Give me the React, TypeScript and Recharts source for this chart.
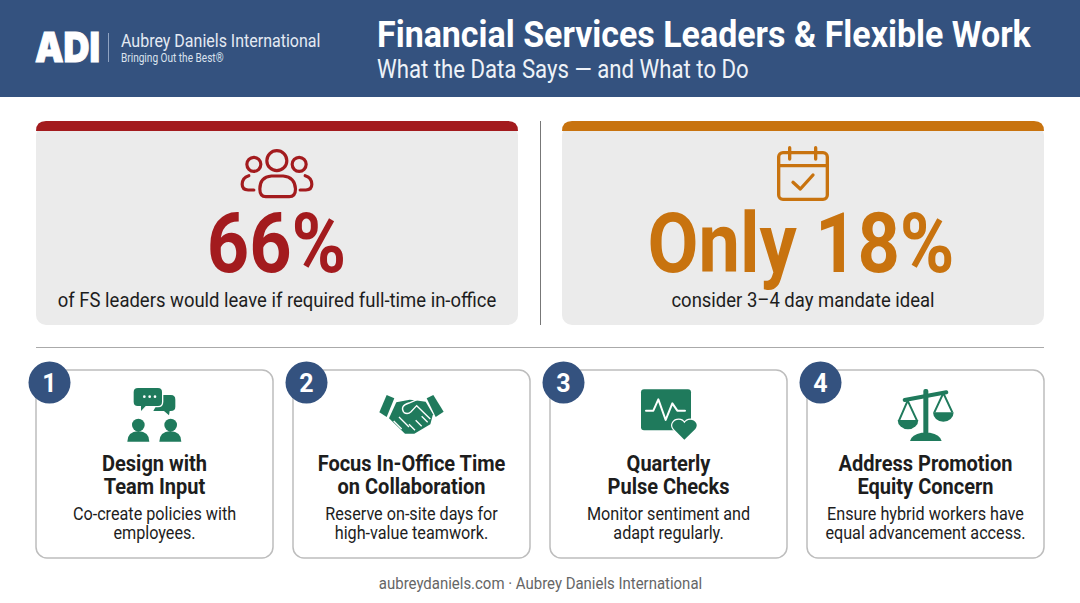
import { BarChart, Bar, XAxis, YAxis } from "recharts";

const statCategories = ["leave", "mandate"];
const statValues = [66, 18];
const statHeadlines = ["66%", "Only 18%"];
const statCaptions = [
  "of FS leaders would leave if required full-time in-office",
  "consider 3–4 day mandate ideal",
];
const statColors = ["#a31b1e", "#c8730f"];

const stepNumbers = [1, 2, 3, 4];
const stepTitles = [
  ["Design with", "Team Input"],
  ["Focus In-Office Time", "on Collaboration"],
  ["Quarterly", "Pulse Checks"],
  ["Address Promotion", "Equity Concern"],
];
const stepTexts = [
  ["Co-create policies with", "employees."],
  ["Reserve on-site days for", "high-value teamwork."],
  ["Monitor sentiment and", "adapt regularly."],
  ["Ensure hybrid workers have", "equal advancement access."],
];

const statData = statCategories.map((name, i) => ({ name, value: statValues[i] }));
const stepData = stepNumbers.map((step) => ({ name: "step" + step, step }));

const NAVY = "#34527f";
const GREEN = "#1f7a5c";
const INK = "#1d1d1d";

// Roboto squeezed sideways, no condensed cut is installed
function Cond({ x, y, size, weight = 400, fill = INK, k = 0.84, anchor = "start", children }: any) {
  return (
    <text
      transform={`translate(${x},${y}) scale(${k},1)`}
      fontFamily="Roboto, sans-serif"
      fontSize={size}
      fontWeight={weight}
      fill={fill}
      textAnchor={anchor}
    >
      {children}
    </text>
  );
}

function PeopleIcon({ cx, top, color }: any) {
  return (
    <g transform={`translate(${cx},${top}) scale(0.3333) translate(-291.5,-18)`} fill="none" stroke={color} strokeWidth={9.5} strokeLinecap="round">
      <circle cx={291} cy={137} r={30} />
      <circle cx={222} cy={148} r={21} />
      <circle cx={358} cy={148} r={21} />
      <path d="M240 222 Q240 186 275 183 L310 183 Q345 186 347 222 Q347 245 328 245 L258 245 Q240 245 240 222 Z" />
      <path d="M207 182 Q187 188 187 208 Q187 225 205 225 L222 225" />
      <path d="M376 182 Q396 188 396 208 Q396 225 378 225 L361 225" />
    </g>
  );
}

function CalendarIcon({ cx, top, color }: any) {
  return (
    <g transform={`translate(${cx},${top}) scale(0.3333) translate(-190,-18)`} fill="none" stroke={color} strokeWidth={10} strokeLinecap="round" strokeLinejoin="round">
      <rect x={117} y={113} width={146} height={140} rx={13} />
      <path d="M117 152 L263 152" />
      <path d="M150 98 L150 132 M228 98 L228 132" />
      <path d="M160 202 L182 222 L220 180" />
    </g>
  );
}

function ChatIcon() {
  return (
    <g fill={GREEN} stroke="none">
      <path d="M410 150 L410 132 Q410 122 422 120 L453 120 Q466 120 466 134 L466 155 Q466 168 452 168 L449 168 L447 181 L432 168 L400 168 Z" />
      <path d="M354 97 L414 97 Q428 97 428 111 L428 140 Q428 155 414 155 L378 155 L361 173 L361 155 L353 155 Q339 155 339 141 L339 111 Q339 97 354 97 Z" stroke="#fff" strokeWidth={4} />
      <circle cx={373} cy={125} r={4} fill="#fff" />
      <circle cx={389} cy={125} r={4} fill="#fff" />
      <circle cx={405} cy={125} r={4} fill="#fff" />
      <circle cx={355} cy={210} r={19} />
      <circle cx={452} cy={210} r={19} />
      <path d="M322 260 Q322 230 355 228 Q388 230 388 260 Z" />
      <path d="M418 260 Q418 230 451 228 Q484 230 484 260 Z" />
    </g>
  );
}

function HandshakeIcon() {
  return (
    <g fill={GREEN} stroke="none">
      <path d="M305 120 L328 130 L305 186 L283 172 Z" />
      <path d="M445 120 L425 130 L452 186 L476 170 Z" />
      <path d="M334 142 L374 134 L390 136 L422 140 L444 178 L436 208 L388 236 L360 236 L312 190 Z" />
      <path d="M356 172 Q344 152 372 144 L396 134" fill="none" stroke="#fff" strokeWidth={4} />
      <path d="M356 172 Q368 180 378 170 L395 152 L436 192" fill="none" stroke="#fff" strokeWidth={4} />
      <path d="M326 198 L350 222 M342 186 L372 216 M372 208 L390 226 M392 196 L410 214 M410 184 L428 202" stroke="#fff" strokeWidth={4} fill="none" />
    </g>
  );
}

function PulseIcon() {
  return (
    <g>
      <rect x={303} y={103} width={150} height={123} rx={9} fill={GREEN} />
      <path d="M318 167 L340 167 L355 133 L377 195 L397 145 L412 167 L435 167" fill="none" stroke="#fff" strokeWidth={6} strokeLinejoin="round" strokeLinecap="round" />
      <path d="M433 254 L401 222 C390 208 402 194 416 194 C424 194 430 198 433 205 C437 198 443 194 451 194 C465 194 477 208 466 222 Z" fill={GREEN} stroke="#fff" strokeWidth={7} paintOrder="stroke" />
    </g>
  );
}

function ScaleIcon() {
  return (
    <g fill={GREEN} stroke="none">
      <rect x={385} y={102} width={15} height={140} rx={6} />
      <path d="M329 135 L454 112" stroke={GREEN} strokeWidth={12} strokeLinecap="round" />
      <path d="M345 258 Q350 238 380 233 L405 233 Q435 238 440 258 Z" />
      <path d="M312 197 L338 137 L366 197 M418 172 L445 114 L472 172" fill="none" stroke={GREEN} strokeWidth={6} />
      <path d="M308 195 L370 195 A31 28 0 0 1 308 195 Z" />
      <path d="M414 172 L476 172 A31 28 0 0 1 414 172 Z" />
    </g>
  );
}

const stepIcons = [ChatIcon, HandshakeIcon, PulseIcon, ScaleIcon];
const stepIconCenters = [403.5, 379.5, 385.5, 391.5];

function StatCard({ x, y, width, height, index }: any) {
  const color = statColors[index];
  const cx = x + width / 2;
  const r = 10;
  return (
    <g>
      <rect x={x} y={y + 4} width={width} height={height - 4} rx={r} fill="#ebebeb" />
      <path
        d={`M${x} ${y + 10} Q${x} ${y} ${x + r} ${y} L${x + width - r} ${y} Q${x + width} ${y} ${x + width} ${y + 10} Z`}
        fill={color}
      />
      {index === 0 ? <PeopleIcon cx={cx} top={y} color={color} /> : <CalendarIcon cx={cx} top={y} color={color} />}
      <Cond x={index === 0 ? cx - 0.5 : cx - 2} y={y + 151} size={84} weight={700} fill={color} anchor="middle" k={0.88}>
        {statHeadlines[index]}
      </Cond>
      <Cond x={cx} y={y + 186} size={21} anchor="middle" k={0.88}>
        {statCaptions[index]}
      </Cond>
    </g>
  );
}

function StepCard({ x, y, width, height, index }: any) {
  const cx = x + width / 2;
  const Icon = stepIcons[index];
  return (
    <g>
      <rect x={x} y={y} width={width} height={height} rx={11} fill="#fff" stroke="#bdbdbd" strokeWidth={1.5} />
      <circle cx={x + 13.5} cy={y + 12.5} r={21} fill={NAVY} />
      <text x={x + 13.5} y={y + 21.5} textAnchor="middle" fontFamily="Roboto, sans-serif" fontWeight={700} fontSize={25} fill="#fff">
        {stepNumbers[index]}
      </text>
      <g transform={`translate(${cx},${y}) scale(0.3333) translate(${-stepIconCenters[index]},-45)`}>
        <Icon />
      </g>
      {stepTitles[index].map((line, i) => (
        <Cond key={line} x={cx} y={y + 101 + i * 23} size={22} weight={700} anchor="middle" k={0.91}>
          {line}
        </Cond>
      ))}
      {stepTexts[index].map((line, i) => (
        <Cond key={line} x={cx} y={y + 150 + i * 19} size={18} anchor="middle" k={0.9}>
          {line}
        </Cond>
      ))}
    </g>
  );
}

function Backdrop() {
  return (
    <svg width={1080} height={603} style={{ position: "absolute", left: 0, top: 0 }}>
      <rect x={0} y={0} width={1080} height={97} fill={NAVY} />
      <text x={67.5} y={62} textAnchor="middle" fontFamily="Inter, sans-serif" fontWeight={900} fontSize={41} fill="#fff" stroke="#fff" strokeWidth={1} textLength={65} lengthAdjust="spacingAndGlyphs">
        ADI
      </text>
      <rect x={108} y={33} width={1} height={29} fill="#8fa3c2" />
      <Cond x={121} y={47} size={18} fill="#e4eaf3" k={0.89}>Aubrey Daniels International</Cond>
      <Cond x={121} y={62} size={12} fill="#dbe2ee" k={0.84}>Bringing Out the Best®</Cond>
      <Cond x={377} y={47} size={37.5} weight={700} fill="#fff" k={0.906}>Financial Services Leaders &amp; Flexible Work</Cond>
      <Cond x={377} y={78} size={25} fill="#eef2f8" k={0.888}>What the Data Says — and What to Do</Cond>
      <rect x={540} y={121} width={1} height={204} fill="#777" />
      <rect x={36} y={347} width={1008} height={1} fill="#aaa" />
      <Cond x={540.5} y={589} size={17} fill="#666" anchor="middle" k={0.88}>
        aubreydaniels.com · Aubrey Daniels International
      </Cond>
    </svg>
  );
}

export default function App() {
  return (
    <div style={{ position: "absolute", left: 0, top: 0, width: 1080, height: 603, background: "#fff", overflow: "hidden" }}>
      <Backdrop />
      <div style={{ position: "absolute", left: 0, top: 0 }}>
        <BarChart width={1080} height={603} data={statData} barSize={482} margin={{ top: 121, bottom: 278, left: 14, right: 14 }}>
          <XAxis dataKey="name" hide />
          <YAxis domain={[0, 100]} hide />
          <Bar dataKey="value" isAnimationActive={false} background={StatCard as any} shape={() => <g />} />
        </BarChart>
      </div>
      <div style={{ position: "absolute", left: 0, top: 0 }}>
        <BarChart width={1080} height={603} data={stepData} barSize={237} margin={{ top: 370, bottom: 45, left: 26, right: 26 }}>
          <XAxis dataKey="name" hide />
          <YAxis domain={[0, 4]} hide />
          <Bar dataKey="step" isAnimationActive={false} background={StepCard as any} shape={() => <g />} />
        </BarChart>
      </div>
    </div>
  );
}
